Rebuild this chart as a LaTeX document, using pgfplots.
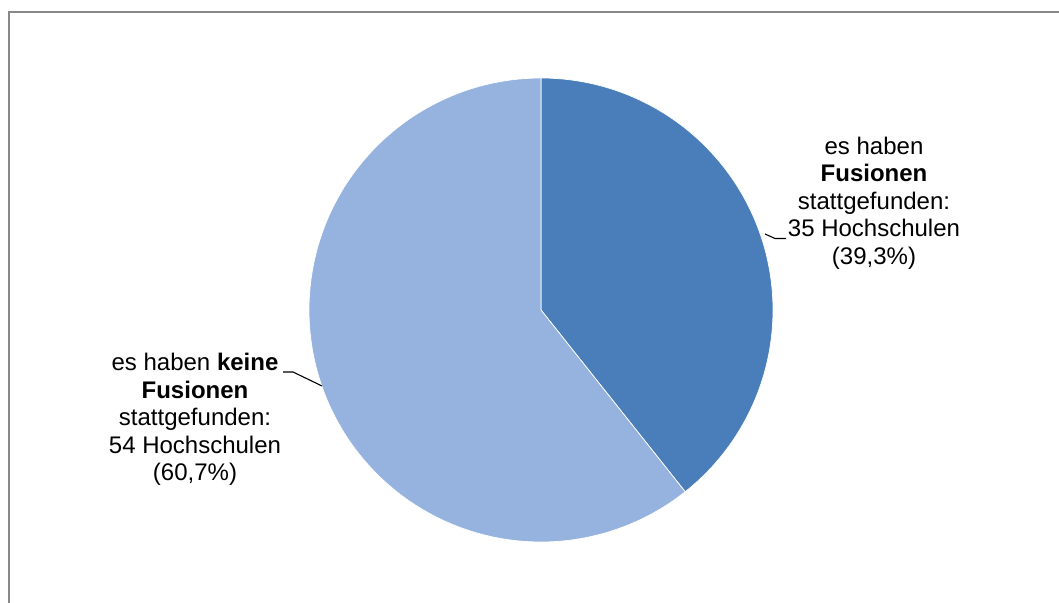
\documentclass[border=0pt]{standalone}
\usepackage{pgfplots}
\pgfplotsset{compat=1.18}
\usepackage{fontspec}
\setmainfont{Liberation Sans}
\definecolor{darkslice}{HTML}{4A7EBB}
\definecolor{lightslice}{HTML}{95B3DE}
\definecolor{framegray}{HTML}{888888}
\begin{document}
\begin{tikzpicture}[lbl/.style={font=\fontsize{24bp}{27.4bp}\selectfont, inner sep=0pt, anchor=base}]
% data: number of universities
\pgfmathsetmacro\vA{35}% es haben Fusionen stattgefunden
\pgfmathsetmacro\vB{54}% es haben keine Fusionen stattgefunden
\pgfmathsetmacro\angA{360*\vA/(\vA+\vB)}
\begin{axis}[name=ax, x=1bp, y=1bp, xmin=0, xmax=1059, ymin=0, ymax=603,
  hide axis, clip=false]
\draw[framegray, line width=1.8bp] (axis cs:9.3,-20) -- (axis cs:9.3,591.3) -- (axis cs:1090,591.3);
\addplot[fill=darkslice, draw=white, line width=0.7bp, domain=0:\angA, samples=150]
  ({541+232*sin(x)},{293+232*cos(x)}) -- (axis cs:541,293) -- cycle;
\addplot[fill=lightslice, draw=white, line width=0.7bp, domain=\angA:360, samples=200]
  ({541+232*sin(x)},{293+232*cos(x)}) -- (axis cs:541,293) -- cycle;
% right label
\node[lbl] at (axis cs:874,{603-154.5}) {es haben};
\node[lbl] at (axis cs:874,{603-181.9}) {\textbf{Fusionen}};
\node[lbl] at (axis cs:874,{603-209.3}) {stattgefunden:};
\node[lbl] at (axis cs:874,{603-236.7}) {35 Hochschulen};
\node[lbl] at (axis cs:874,{603-264.1}) {(39,3\%)};
\draw[black, line width=1.1bp] (axis cs:765,{603-234}) -- (axis cs:775,{603-238.5}) -- (axis cs:786,{603-238.5});
% left label
\node[lbl] at (axis cs:195,{603-371}) {es haben \textbf{keine}};
\node[lbl] at (axis cs:195,{603-398.4}) {\textbf{Fusionen}};
\node[lbl] at (axis cs:195,{603-425.8}) {stattgefunden:};
\node[lbl] at (axis cs:195,{603-453.2}) {54 Hochschulen};
\node[lbl] at (axis cs:195,{603-480.6}) {(60,7\%)};
\draw[black, line width=1.1bp] (axis cs:283,{603-372}) -- (axis cs:293,{603-372}) -- (axis cs:322,{603-386});
\end{axis}
\pgfresetboundingbox
\path (ax.south west) rectangle (ax.north east);
\end{tikzpicture}
\end{document}
